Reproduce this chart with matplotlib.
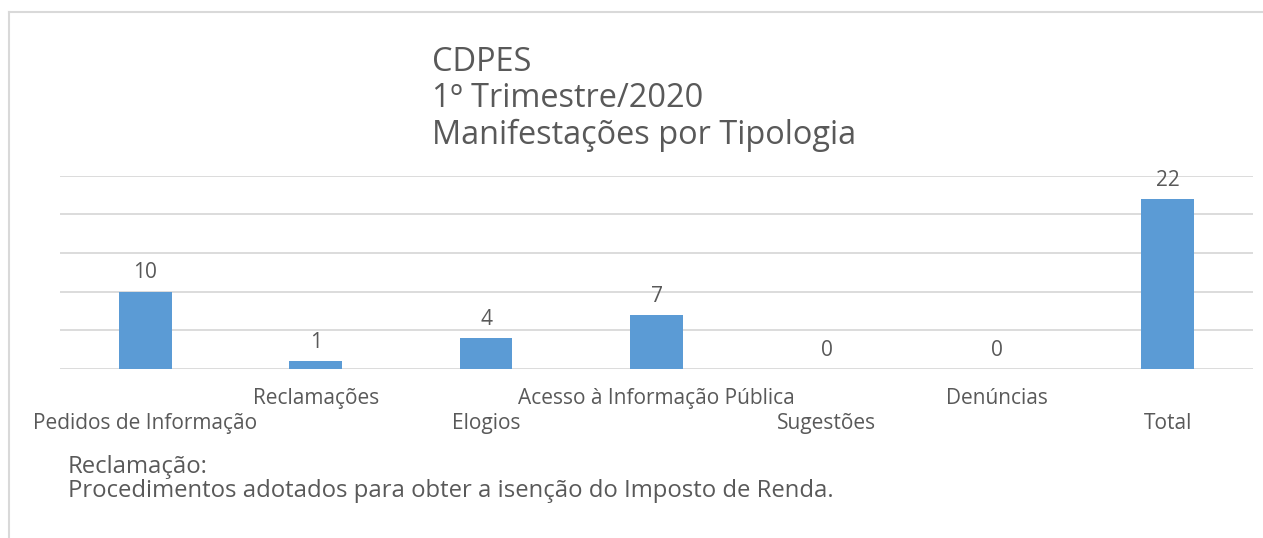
import matplotlib.pyplot as plt
from matplotlib.lines import Line2D

categorias = ["Pedidos de Informação", "Reclamações", "Elogios",
              "Acesso à Informação Pública", "Sugestões", "Denúncias", "Total"]
valores = [10, 1, 4, 7, 0, 0, 22]
titulo = "CDPES\n1º Trimestre/2020\nManifestações por Tipologia"
nota = "Reclamação:\nProcedimentos adotados para obter a isenção do Imposto de Renda."

W, H = 1263, 538
cinza = "#595959"
azul = "#5b9bd5"
grade = "#d9d9d9"

plt.rcParams["font.family"] = ["Open Sans", "DejaVu Sans"]

fig = plt.figure(figsize=(W / 100, H / 100), dpi=100)
ax = fig.add_axes([60 / W, 1 - 369 / H, (1253 - 60) / W, (369 - 175.7) / H])

x = range(len(categorias))
bars = ax.bar(x, valores, width=0.31, color=azul, zorder=3)
ax.set_xlim(-0.5, len(categorias) - 0.5)
ax.set_ylim(0, 25)
ax.set_yticks([0, 5, 10, 15, 20, 25])
ax.yaxis.grid(True, color=grade, lw=1.3, zorder=0)
ax.tick_params(axis="y", left=False, labelleft=False)
ax.tick_params(axis="x", length=0, labelsize=15, labelcolor=cinza)
for s in ax.spines.values():
    s.set_visible(False)

ax.set_xticks(list(x), categorias)
for i, t in enumerate(ax.xaxis.get_major_ticks()):
    t.set_pad(31.5 if i % 2 == 0 else 14)

for b, v in zip(bars, valores):
    ax.annotate(str(v), (b.get_x() + b.get_width() / 2, v), xytext=(0, 6),
                textcoords="offset points", ha="center", va="bottom",
                fontsize=15, color=cinza)

fig.text(432 / W, 1 - 46 / H, titulo, ha="left", va="top", fontsize=23.4,
         color=cinza, linespacing=1.14)
fig.text(68 / W, 1 - 455 / H, nota, ha="left", va="top", fontsize=17.2,
         color=cinza, linespacing=1.0)

fig.add_artist(Line2D([9 / W, 1], [1 - 12 / H, 1 - 12 / H], color=grade, lw=1.5,
                      transform=fig.transFigure))
fig.add_artist(Line2D([9 / W, 9 / W], [1 - 12 / H, 0], color=grade, lw=1.5,
                      transform=fig.transFigure))

fig.savefig("out.png", dpi=100, facecolor="white")
